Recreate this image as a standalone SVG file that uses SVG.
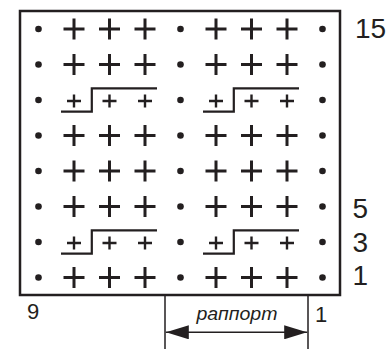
<svg xmlns="http://www.w3.org/2000/svg" width="390" height="349" viewBox="0 0 390 349">
<defs>
<style>
.frame{fill:none;stroke:#231f20;stroke-width:2.5}
.big{stroke:#231f20;stroke-width:3;fill:none}
.small{stroke:#231f20;stroke-width:2.4;fill:none}
.step{stroke:#231f20;stroke-width:2.2;fill:none}
.dot{fill:#231f20}
.ln{stroke:#231f20;stroke-width:1.5;fill:none}
.lbl{font-family:"Liberation Sans",Arial,sans-serif;fill:#231f20}
</style>
<path id="P" d="M-10.5,0H10.5M0,-10.5V10.5"/>
<path id="p" d="M-7,0H7M0,-6.5V6.5"/>
<g id="row">
<circle class="dot" cx="38.5" cy="0" r="3.3"/>
<use href="#P" class="big" x="74"/>
<use href="#P" class="big" x="109.5"/>
<use href="#P" class="big" x="145"/>
<circle class="dot" cx="180.5" cy="0" r="3.3"/>
<use href="#P" class="big" x="216"/>
<use href="#P" class="big" x="251.5"/>
<use href="#P" class="big" x="287"/>
<circle class="dot" cx="322.5" cy="0" r="3.3"/>
</g>
<g id="srow">
<circle class="dot" cx="38.5" cy="0" r="3.3"/>
<use href="#p" class="small" x="74" y="1"/>
<use href="#p" class="small" x="109.5" y="1"/>
<use href="#p" class="small" x="145" y="1"/>
<circle class="dot" cx="180.5" cy="0" r="3.3"/>
<use href="#p" class="small" x="216" y="1"/>
<use href="#p" class="small" x="251.5" y="1"/>
<use href="#p" class="small" x="287" y="1"/>
<circle class="dot" cx="322.5" cy="0" r="3.3"/>
<path class="step" d="M61,11.7H91.8V-11.7H157"/>
<path class="step" d="M203,11.7H233.8V-11.7H299"/>
</g>
<marker id="ah" viewBox="0 0 23 14" refX="23" refY="7" markerWidth="23" markerHeight="14" markerUnits="userSpaceOnUse" orient="auto-start-reverse">
<path d="M0,0L23,7L0,14Z" fill="#231f20"/>
</marker>
</defs>
<rect width="390" height="349" fill="#fff"/>
<g id="chart">
<rect class="frame" x="20" y="11" width="320" height="284"/>
<use href="#row" y="29"/>
<use href="#row" y="64.5"/>
<use href="#srow" y="100"/>
<use href="#row" y="135.5"/>
<use href="#row" y="171"/>
<use href="#row" y="206.5"/>
<use href="#srow" y="242"/>
<use href="#row" y="277.5"/>
</g>
<g id="labels" class="lbl">
<text x="355" y="38.3" font-size="28">15</text>
<text x="352.5" y="218.3" font-size="28">5</text>
<text x="352.5" y="251.7" font-size="28">3</text>
<text x="352.5" y="285" font-size="28">1</text>
<text x="27" y="318.5" font-size="22">9</text>
<text x="315" y="321.5" font-size="22">1</text>
<text x="237" y="320" font-size="18" font-style="italic" text-anchor="middle" textLength="81" lengthAdjust="spacingAndGlyphs">раппорт</text>
</g>
<g id="connectors">
<path class="ln" d="M165,295V349M308,295V349"/>
<path class="ln" d="M165.8,332.3H307.2" marker-start="url(#ah)" marker-end="url(#ah)"/>
</g>
</svg>
